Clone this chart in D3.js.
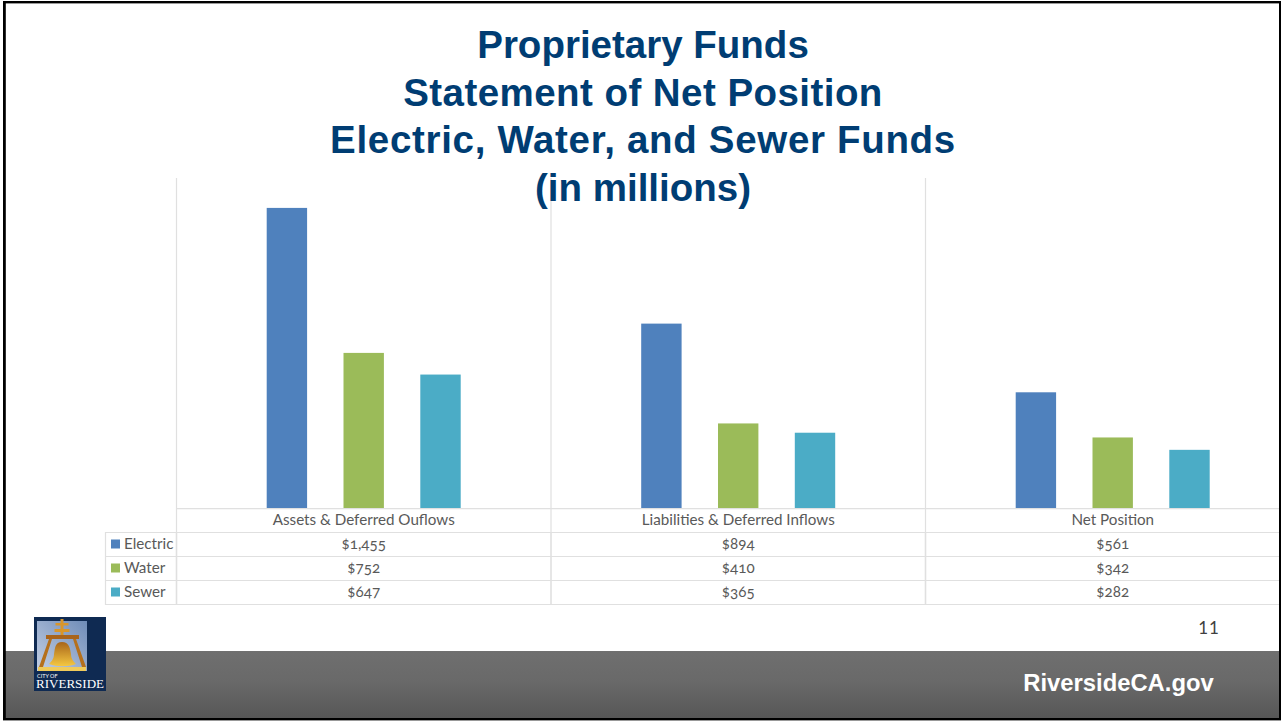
<!DOCTYPE html>
<html><head><meta charset="utf-8">
<script src="https://cdn.jsdelivr.net/npm/d3@7"></script>
<style>
html,body{margin:0;padding:0;background:#fff;overflow:hidden}
svg{display:block}
text{font-family:"Lato","Open Sans",sans-serif}
</style></head><body><svg id="c" width="1281" height="721"></svg>
<script>
const categories=["Assets & Deferred Ouflows","Liabilities & Deferred Inflows","Net Position"];
const seriesNames=["Electric","Water","Sewer"];
const electric=[1455,894,561];
const water=[752,410,342];
const sewer=[647,365,282];
const seriesColors=["#4f81bd","#9bbb59","#4bacc6"];
const titleLines=["Proprietary Funds","Statement of Net Position","Electric, Water, and Sewer Funds","(in millions)"];
const titleSpacing=[0,0.45,0.68,0];
const seriesValues=[electric,water,sewer];

const svg=d3.select("#c");
const defs=svg.append("defs");
const g=defs.append("linearGradient").attr("id","foot").attr("x1",0).attr("y1",0).attr("x2",0).attr("y2",1);
g.append("stop").attr("offset","0").attr("stop-color","#6f6f6f");
g.append("stop").attr("offset","0.45").attr("stop-color","#696969");
g.append("stop").attr("offset","1").attr("stop-color","#565656");
const sky=defs.append("linearGradient").attr("id","sky").attr("x1",1).attr("y1",0).attr("x2",0).attr("y2",1);
sky.append("stop").attr("offset","0").attr("stop-color","#6f8cb8");
sky.append("stop").attr("offset","1").attr("stop-color","#c3cfe4");
const gold=defs.append("linearGradient").attr("id","gold").attr("x1",0).attr("y1",0).attr("x2",0).attr("y2",1);
gold.append("stop").attr("offset","0").attr("stop-color","#a8651a");
gold.append("stop").attr("offset","1").attr("stop-color","#f5c842");

// footer
svg.append("rect").attr("x",5).attr("y",651).attr("width",1275).attr("height",68).attr("fill","url(#foot)");

// scales
const x=d3.scaleBand().domain(categories).range([176.5,1300]);
const y=d3.scaleLinear().domain([0,1600]).range([508,178]);
const inner=d3.scaleBand().domain(seriesNames).range([90.2,284.2]).paddingInner(0.474);

const gridColor="#e0e0e0";
const line=(x1,y1,x2,y2,w)=>svg.append("line").attr("x1",x1).attr("y1",y1).attr("x2",x2).attr("y2",y2).attr("stroke",gridColor).attr("stroke-width",w||1);

// vertical plot dividers
categories.forEach(c=>line(x(c),178,x(c),532,1.2));
categories.forEach(c=>line(x(c),532,x(c),605,1.6));
// horizontal table rules
const rowY=[508.7,532.5,556.5,580.5,604.5];
rowY.forEach((r,i)=>line(i===0?176:105,r,1281,r,1.2));
line(105.5,532,105.5,605,1.2);

// bars
categories.forEach((c,ci)=>{
  svg.append("g").selectAll("rect").data(seriesNames).join("rect")
    .attr("x",s=>x(c)+inner(s))
    .attr("width",inner.bandwidth())
    .attr("y",(s,i)=>y(seriesValues[i][ci]))
    .attr("height",(s,i)=>y(0)-y(seriesValues[i][ci]))
    .attr("fill",(s,i)=>seriesColors[i]);
});

// title
svg.append("g").selectAll("text").data(titleLines).join("text")
  .attr("x",643).attr("y",(d,i)=>58+i*47.7)
  .attr("text-anchor","middle").attr("fill","#003d73")
  .style("font-family","'Liberation Sans',sans-serif").style("font-weight",700).style("font-size","38.5px")
  .style("letter-spacing",(d,i)=>titleSpacing[i]+"px")
  .text(d=>d);

// table text
const tc="#595959";
const fs="15.2px";
categories.forEach(c=>{
  svg.append("text").attr("x",x(c)+x.bandwidth()/2).attr("y",525).attr("text-anchor","middle")
   .attr("fill",tc).style("font-size",fs).text(c);
});
seriesNames.forEach((s,i)=>{
  const cy=rowY[i+1]+11.5;
  svg.append("rect").attr("x",111).attr("y",cy-4.5).attr("width",9).attr("height",9).attr("fill",seriesColors[i]);
  svg.append("text").attr("x",124).attr("y",cy+4.5).attr("fill",tc).style("font-size",fs).text(s);
  categories.forEach((c,ci)=>{
    svg.append("text").attr("x",x(c)+x.bandwidth()/2).attr("y",cy+5).attr("text-anchor","middle")
      .attr("fill",tc).style("font-size",fs).style("font-variant-numeric","oldstyle-nums").text("$"+d3.format(",")(seriesValues[i][ci]));
  });
});

// page number & url
svg.append("text").attr("x",1209).attr("y",634).attr("text-anchor","middle").attr("fill","#404040").style("font-size","17px").style("letter-spacing","1px").text("11");
svg.append("text").attr("x",1118.5).attr("y",691).attr("text-anchor","middle").attr("fill","#fff")
  .style("font-family","'Liberation Sans',sans-serif").style("font-weight",700).style("font-size","23.8px").text("RiversideCA.gov");

// logo
const L=svg.append("g").attr("transform","translate(34,617)");
L.append("rect").attr("width",72).attr("height",74).attr("fill","#0f2a52");
L.append("rect").attr("x",3).attr("y",4).attr("width",50).attr("height",50).attr("fill","url(#sky)");
L.append("path").attr("d","M26.5 2h3v4h5v2.5h-5v3.5h6v3h-6v3h-3v-3h-6v-3h6V8.500h-5V6h5z").attr("fill","#d9962a");
L.append("rect").attr("x",12).attr("y",18).attr("width",33).attr("height",4).attr("fill","#a9641c");
L.append("path").attr("d","M15 22h3L9 50H5zM42 22h-3l9 28h4z").attr("fill","#b5701c");
L.append("path").attr("d","M28 25c-7 0-7 6-8 12 0 5-3 8-5 10 8 3 19 3 27 0-2-2-5-5-5-10-1-6-2-12-9-12z").attr("fill","url(#gold)");
L.append("rect").attr("x",4).attr("y",50).attr("width",48).attr("height",4).attr("fill","#f0cb5a");
L.append("text").attr("x",3).attr("y",60.500).attr("fill","#fff").style("font-size","5.500px").text("CITY OF");
L.append("text").attr("x",2).attr("y",71).attr("fill","#fff").attr("textLength",68).attr("lengthAdjust","spacingAndGlyphs")
  .style("font-family","'Liberation Serif',serif").style("font-size","12px").text("RIVERSIDE");

// frame
const frame=(a,b,c,d)=>svg.append("rect").attr("x",a).attr("y",b).attr("width",c).attr("height",d).attr("fill","#000");
frame(3,1,1278,2.4);
frame(3,1,2.8,719);
frame(3,718,1278,2.4);
frame(1279,1,2,719);
</script></body></html>
